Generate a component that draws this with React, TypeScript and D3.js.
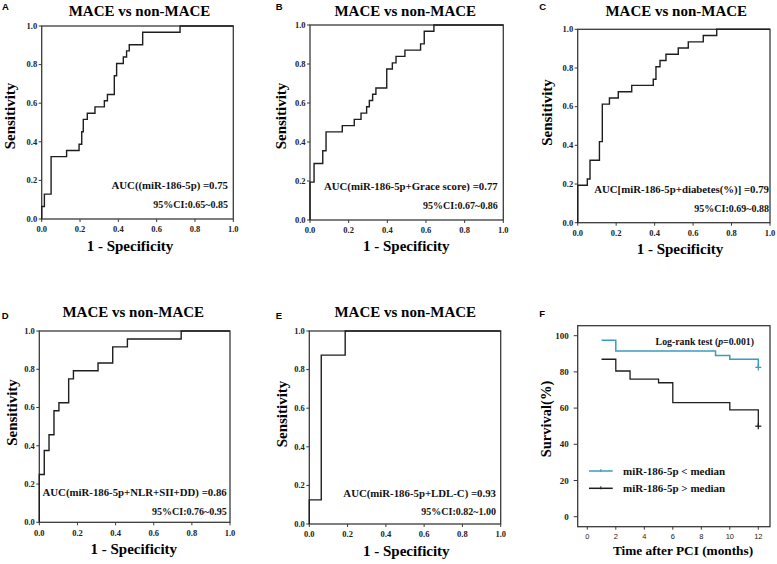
import React from 'react';
import * as d3 from 'd3';

const W = 777;
const H = 564;
const SERIF = '"Liberation Serif", "Times New Roman", serif';
const SANS = '"Liberation Sans", Arial, sans-serif';
const INK = '#1e1e1e';
const FRAME = '#3a3a3a';
const BLUE = '#3b9cc2';

// ROC corner points: 1 - specificity (fpr) and sensitivity (tpr)
const fprA = [0, 0, 0.014, 0.049, 0.130, 0.195, 0.209, 0.217, 0.238, 0.278, 0.327, 0.343, 0.379, 0.391, 0.426, 0.443, 0.457, 0.527, 0.722, 1];
const tprA = [0, 0.065, 0.129, 0.323, 0.355, 0.387, 0.452, 0.516, 0.548, 0.581, 0.613, 0.645, 0.742, 0.806, 0.839, 0.871, 0.903, 0.968, 1, 1];

const fprB = [0, 0, 0.021, 0.066, 0.083, 0.167, 0.229, 0.264, 0.293, 0.307, 0.324, 0.341, 0.397, 0.426, 0.445, 0.491, 0.572, 0.591, 0.641, 1];
const tprB = [0, 0.194, 0.290, 0.355, 0.452, 0.484, 0.516, 0.548, 0.581, 0.613, 0.645, 0.677, 0.774, 0.806, 0.839, 0.871, 0.903, 0.968, 1, 1];

const fprC = [0, 0, 0.050, 0.064, 0.113, 0.128, 0.165, 0.211, 0.281, 0.393, 0.407, 0.428, 0.459, 0.523, 0.575, 0.653, 0.723, 1];
const tprC = [0, 0.194, 0.226, 0.323, 0.419, 0.613, 0.645, 0.677, 0.710, 0.742, 0.806, 0.839, 0.871, 0.903, 0.935, 0.968, 1, 1];

const fprD = [0, 0, 0.026, 0.051, 0.077, 0.103, 0.154, 0.179, 0.308, 0.385, 0.462, 0.744, 1];
const tprD = [0, 0.25, 0.375, 0.458, 0.583, 0.625, 0.75, 0.792, 0.833, 0.917, 0.958, 1, 1];

const fprE = [0, 0, 0.0625, 0.1875, 1];
const tprE = [0, 0.125, 0.875, 1, 1];

const rocTicks = [0, 0.2, 0.4, 0.6, 0.8, 1.0];
const rocTitle = 'MACE vs non-MACE';
const aucLabels = [
  'AUC((miR-186-5p) =0.75',
  'AUC(miR-186-5p+Grace score) =0.77',
  'AUC[miR-186-5p+diabetes(%)] =0.79',
  'AUC(miR-186-5p+NLR+SII+DD) =0.86',
  'AUC(miR-186-5p+LDL-C) =0.93',
];
const ciLabels = [
  '95%CI:0.65~0.85',
  '95%CI:0.67~0.86',
  '95%CI:0.69~0.88',
  '95%CI:0.76~0.95',
  '95%CI:0.82~1.00',
];

// Kaplan-Meier (panel F)
const monthsLow = [1, 2, 9, 10, 12];
const survLow = [97.5, 91.5, 89, 87, 82.5];
const monthsHigh = [1, 2, 3, 5, 6, 10, 12];
const survHigh = [87, 80.5, 76, 74, 63, 59, 50];
const monthTicks = [0, 2, 4, 6, 8, 10, 12];
const survTicks = [0, 20, 40, 60, 80, 100];
const legendLabels = ['miR-186-5p < median', 'miR-186-5p > median'];

const rocLayout = [
  { letter: 'A', lx: 2, ly: 10, x0: 41.7, x1: 233.3, y0: 26, y1: 219, tx: 139.5, ty: 15.5, sx: 15, sy: 116, xlx: 130, xly: 251, ax: 228, ay: 189, cy: 208 },
  { letter: 'B', lx: 275.7, ly: 10, x0: 310, x1: 503.3, y0: 25, y1: 220, tx: 405.3, ty: 16, sx: 286, sy: 116, xlx: 406.3, xly: 251, ax: 497.7, ay: 190, cy: 209 },
  { letter: 'C', lx: 539.3, ly: 10, x0: 577.7, x1: 770, y0: 29.3, y1: 222.7, tx: 676.3, ty: 16, sx: 551.7, sy: 112.5, xlx: 680, xly: 254, ax: 769, ay: 193.3, cy: 212.3 },
  { letter: 'D', lx: 1.7, ly: 319, x0: 39.3, x1: 230, y0: 331, y1: 522.3, tx: 133.3, ty: 316.7, sx: 17, sy: 412.5, xlx: 133.8, xly: 554, ax: 226.7, ay: 495.7, cy: 515 },
  { letter: 'E', lx: 275.7, ly: 319.3, x0: 309.3, x1: 500.7, y0: 331, y1: 524, tx: 405.3, ty: 317.3, sx: 286.7, sy: 414, xlx: 406.3, xly: 556, ax: 496, ay: 496.7, cy: 515 },
];

const rocData = [[fprA, tprA], [fprB, tprB], [fprC, tprC], [fprD, tprD], [fprE, tprE]];

const RocPanel = ({ L, fpr, tpr, auc, ci }) => {
  const x = d3.scaleLinear().domain([0, 1]).range([L.x0, L.x1]);
  const y = d3.scaleLinear().domain([0, 1]).range([L.y1, L.y0]);
  const line = d3.line<number>()
    .x((_, i) => x(fpr[i]))
    .y((_, i) => y(tpr[i]))
    .curve(d3.curveStepAfter);

  return (
    <g>
      <text x={L.lx} y={L.ly} fontFamily={SANS} fontWeight="bold" fontSize={9.5} fill="#000">{L.letter}</text>
      <text x={L.tx} y={L.ty} textAnchor="middle" fontFamily={SERIF} fontWeight="bold" fontSize={15} fill="#000">{rocTitle}</text>

      <rect x={L.x0} y={L.y0} width={L.x1 - L.x0} height={L.y1 - L.y0} fill="none" stroke={FRAME} strokeWidth={1.3} />

      {rocTicks.map(t => (
        <g key={'x' + t}>
          <line x1={x(t)} x2={x(t)} y1={L.y1} y2={L.y1 + 3} stroke={FRAME} strokeWidth={1} />
          <text x={x(t)} y={L.y1 + 13.3} textAnchor="middle" fontFamily={SERIF} fontWeight="bold" fontSize={8.5} fill="#222">{t.toFixed(1)}</text>
        </g>
      ))}
      {rocTicks.map(t => (
        <g key={'y' + t}>
          <line x1={L.x0 - 3} x2={L.x0} y1={y(t)} y2={y(t)} stroke={FRAME} strokeWidth={1} />
          <text x={L.x0 - 4.5} y={y(t)} dy="0.33em" textAnchor="end" fontFamily={SERIF} fontWeight="bold" fontSize={8.5} fill="#222">{t.toFixed(1)}</text>
        </g>
      ))}

      <path d={line(fpr) || ''} fill="none" stroke={INK} strokeWidth={1.4} />

      <text x={L.ax} y={L.ay} textAnchor="end" fontFamily={SERIF} fontWeight="bold" fontSize={10.8} fill="#111">{auc}</text>
      <text x={L.ax} y={L.cy} textAnchor="end" fontFamily={SERIF} fontWeight="bold" fontSize={10} fill="#111">{ci}</text>

      <text x={L.xlx} y={L.xly} textAnchor="middle" fontFamily={SERIF} fontWeight="bold" fontSize={15} fill="#000">1 - Specificity</text>
      <text transform={`translate(${L.sx},${L.sy}) rotate(-90)`} textAnchor="middle" fontFamily={SERIF} fontWeight="bold" fontSize={15} fill="#000">Sensitivity</text>
    </g>
  );
};

const KmPanel = () => {
  const fx0 = 577.7, fx1 = 770, fy0 = 325.7, fy1 = 526.7;
  const x = d3.scaleLinear().domain([0, 12]).range([587.3, 758.3]);
  const y = d3.scaleLinear().domain([0, 100]).range([516.7, 335.7]);
  const stepLine = (xs: number[], ys: number[]) =>
    d3.line<number>().x((_, i) => x(xs[i])).y((_, i) => y(ys[i])).curve(d3.curveStepAfter)(xs) || '';

  const censor = (cx: number, cy: number, color: string) => (
    <g stroke={color} strokeWidth={1.3}>
      <line x1={cx - 3} x2={cx + 3} y1={cy} y2={cy} />
      <line x1={cx} x2={cx} y1={cy - 3} y2={cy + 3} />
    </g>
  );

  const lastLow = monthsLow.length - 1;
  const lastHigh = monthsHigh.length - 1;
  const legendRows = [
    { label: legendLabels[0], color: BLUE, y: 471 },
    { label: legendLabels[1], color: INK, y: 488.3 },
  ];

  return (
    <g>
      <text x={539.3} y={317.3} fontFamily={SANS} fontWeight="bold" fontSize={9.5} fill="#000">F</text>
      <rect x={fx0} y={fy0} width={fx1 - fx0} height={fy1 - fy0} fill="none" stroke={FRAME} strokeWidth={1.3} />

      {survTicks.map(t => (
        <g key={'sy' + t}>
          <line x1={fx0 - 4} x2={fx0} y1={y(t)} y2={y(t)} stroke={FRAME} strokeWidth={1} />
          <text x={fx0 - 9} y={y(t)} dy="0.35em" textAnchor="end" fontFamily={SERIF} fontWeight="bold" fontSize={9} fill="#222">{t}</text>
        </g>
      ))}
      {monthTicks.map(t => (
        <g key={'sx' + t}>
          <line x1={x(t)} x2={x(t)} y1={fy1} y2={fy1 + 3} stroke={FRAME} strokeWidth={1} />
          <text x={x(t)} y={fy1 + 12.5} textAnchor="middle" fontFamily={SANS} fontSize={7.5} fill="#222">{t}</text>
        </g>
      ))}

      <path d={stepLine(monthsHigh, survHigh)} fill="none" stroke={INK} strokeWidth={1.3} />
      <path d={stepLine(monthsLow, survLow)} fill="none" stroke={BLUE} strokeWidth={1.5} />
      {censor(x(monthsLow[lastLow]), y(survLow[lastLow]), BLUE)}
      {censor(x(monthsHigh[lastHigh]), y(survHigh[lastHigh]), INK)}

      <text x={754} y={345} textAnchor="end" fontFamily={SERIF} fontWeight="bold" fontSize={9.8} fill="#111">
        Log-rank test (<tspan fontStyle="italic">p</tspan>=0.001)
      </text>

      {legendRows.map(r => (
        <g key={r.label}>
          <line x1={589} x2={612.7} y1={r.y} y2={r.y} stroke={r.color} strokeWidth={1.5} />
          <line x1={600.8} x2={600.8} y1={r.y - 2} y2={r.y + 1} stroke={r.color} strokeWidth={1} />
          <text x={623} y={r.y + 3.5} fontFamily={SERIF} fontWeight="bold" fontSize={11} fill="#111">{r.label}</text>
        </g>
      ))}

      <text x={683} y={555} textAnchor="middle" fontFamily={SERIF} fontWeight="bold" fontSize={13.3} fill="#000">Time after PCI (months)</text>
      <text transform="translate(551,419) rotate(-90)" textAnchor="middle" fontFamily={SERIF} fontWeight="bold" fontSize={14.5} fill="#000">Survival(%)</text>
    </g>
  );
};

export default function App() {
  return (
    <svg width={W} height={H} viewBox={`0 0 ${W} ${H}`}
      style={{ position: 'absolute', left: 0, top: 0, background: '#fff' }}>
      <rect width={W} height={H} fill="#fff" />
      {rocLayout.map((L, i) => (
        <RocPanel key={L.letter} L={L} fpr={rocData[i][0]} tpr={rocData[i][1]} auc={aucLabels[i]} ci={ciLabels[i]} />
      ))}
      <KmPanel />
    </svg>
  );
}
